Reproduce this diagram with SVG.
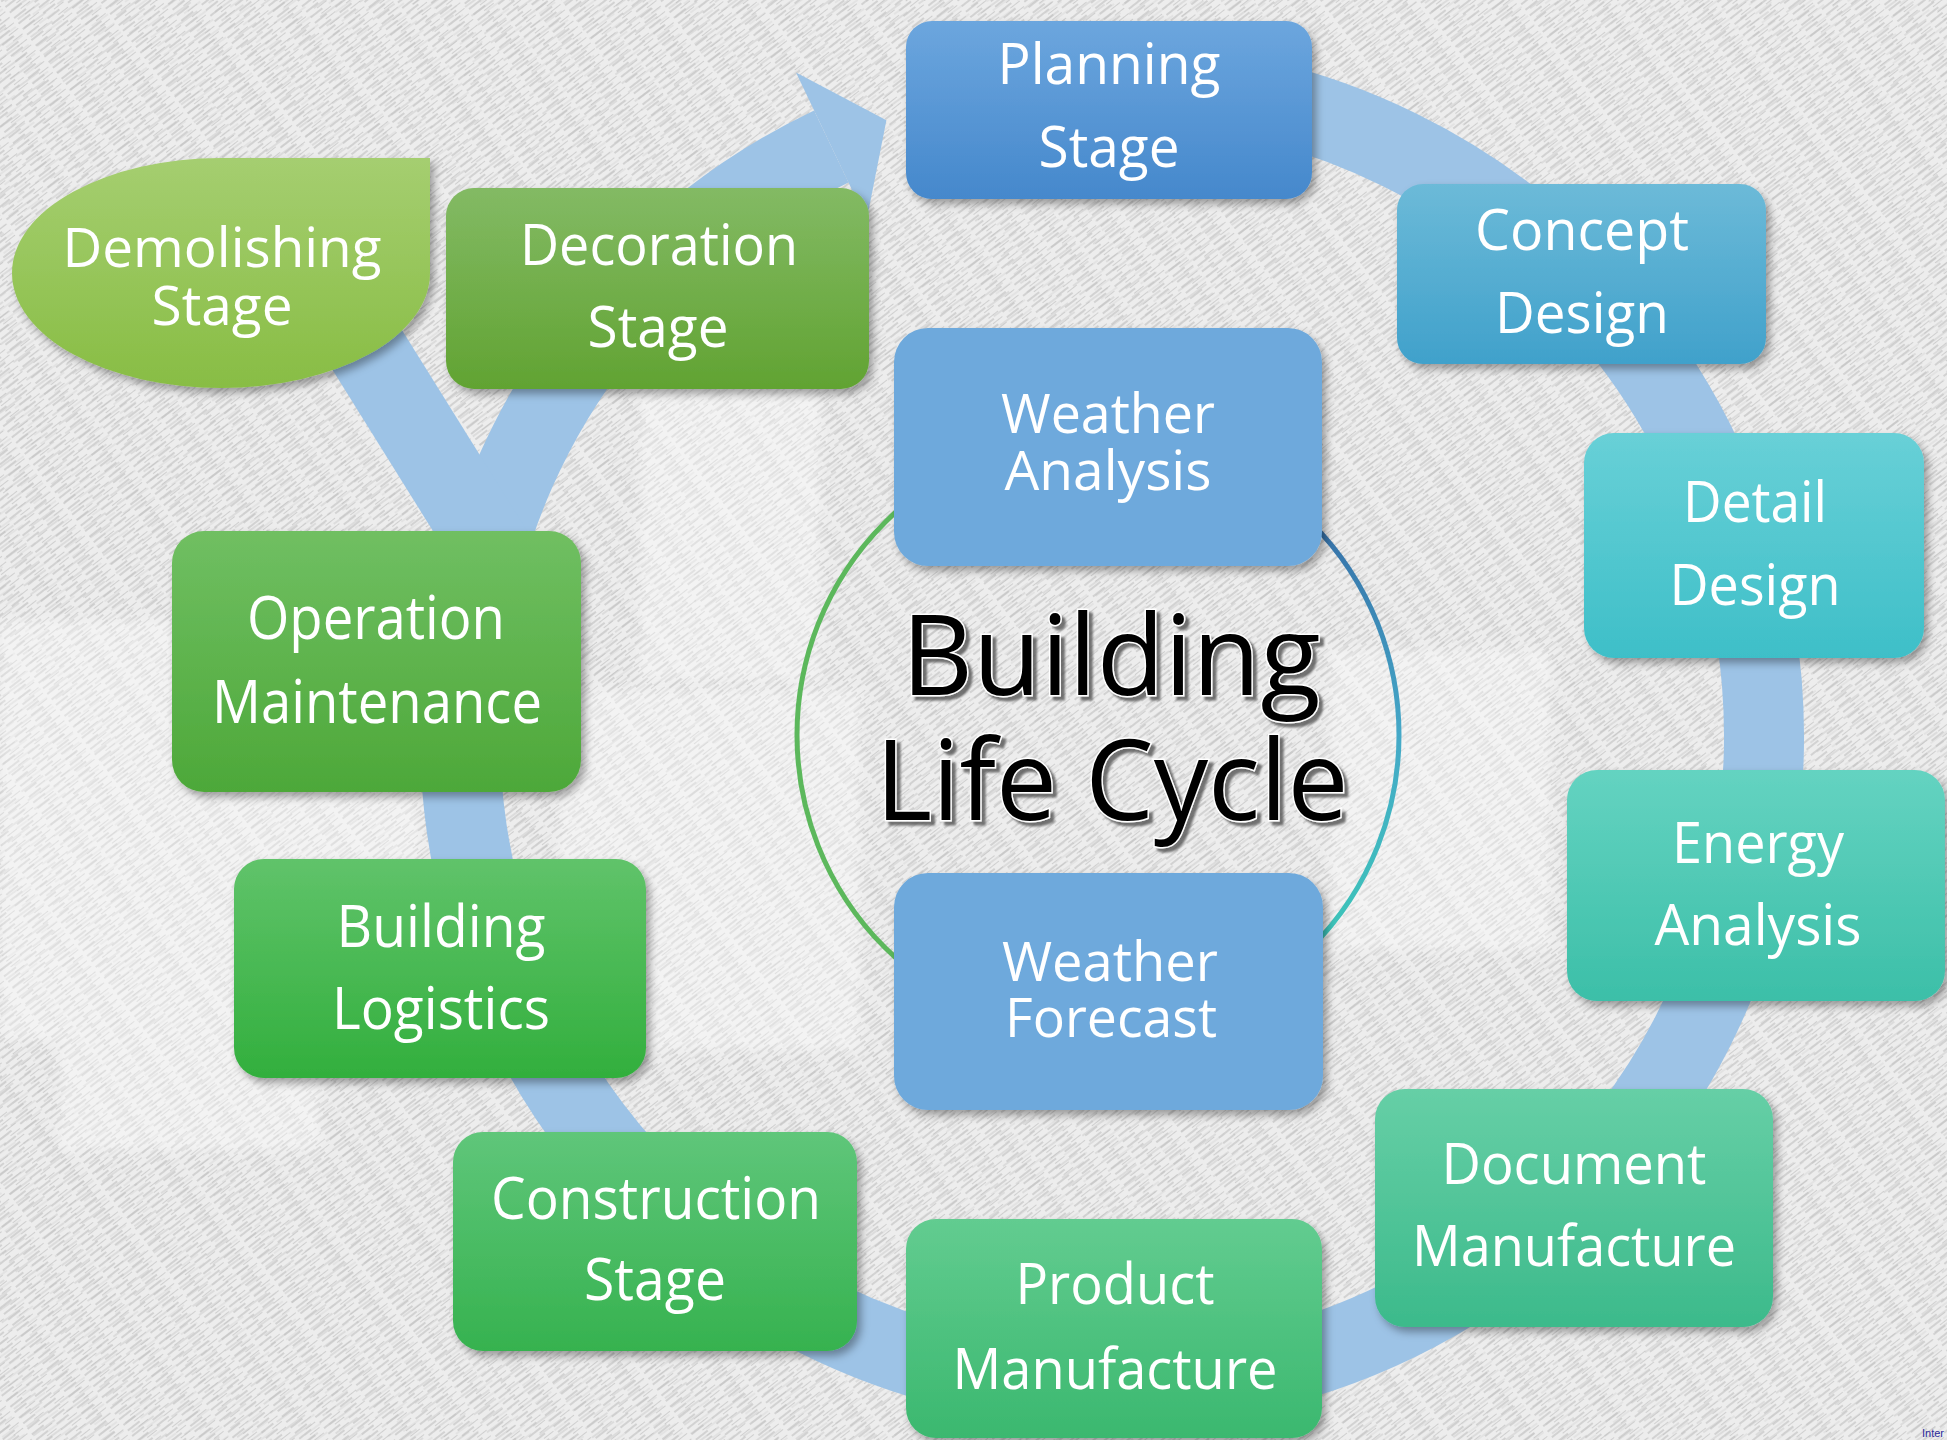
<svg xmlns="http://www.w3.org/2000/svg" width="1947" height="1440" viewBox="0 0 1947 1440">
  <defs>
    <style>
      .lbl { font-family: "Open Sans", "Noto Sans", "DejaVu Sans", sans-serif; fill: #ffffff; text-anchor: middle; }
      .box { filter: url(#shadow); }
      .title { font-family: "Open Sans", "Noto Sans", "DejaVu Sans", sans-serif; font-size: 112px; text-anchor: middle; fill: #000000; stroke: #ffffff; stroke-width: 3; paint-order: stroke; filter: url(#titleShadow); }
      .band { fill: none; stroke: #9dc3e6; stroke-width: 80; }
    </style>
    <!-- diagonal scratch texture -->
    <pattern id="hatchA" width="26" height="7" patternUnits="userSpaceOnUse" patternTransform="rotate(-38)">
      <line x1="0" y1="2" x2="15" y2="2" stroke="#c2c2c2" stroke-width="1.3"/>
      <line x1="11" y1="5.5" x2="23" y2="5.5" stroke="#cfcfcf" stroke-width="1"/>
    </pattern>
    <pattern id="hatchB" width="41" height="11" patternUnits="userSpaceOnUse" patternTransform="rotate(-36)">
      <line x1="3" y1="4" x2="30" y2="4" stroke="#b9b9b9" stroke-width="1.1"/>
      <line x1="18" y1="9" x2="38" y2="9" stroke="#c8c8c8" stroke-width="0.9"/>
    </pattern>
    <filter id="shadow" x="-10%" y="-10%" width="125%" height="130%">
      <feDropShadow dx="4" dy="5" stdDeviation="4" flood-color="#000" flood-opacity="0.35"/>
    </filter>
    <filter id="titleShadow" x="-5%" y="-10%" width="115%" height="130%">
      <feDropShadow dx="4" dy="4" stdDeviation="1" flood-color="#555" flood-opacity="0.8"/>
    </filter>
    <filter id="soft" x="-5%" y="-5%" width="110%" height="110%">
      <feGaussianBlur stdDeviation="6"/>
    </filter>
    <!-- node fills -->
    <linearGradient id="gPlanning" x1="0" y1="0" x2="0" y2="1"><stop offset="0" stop-color="#6ca6de"/><stop offset="1" stop-color="#4588cc"/></linearGradient>
    <linearGradient id="gConcept" x1="0" y1="0" x2="0" y2="1"><stop offset="0" stop-color="#6cbad8"/><stop offset="1" stop-color="#40a1cb"/></linearGradient>
    <linearGradient id="gDetail" x1="0" y1="0" x2="0" y2="1"><stop offset="0" stop-color="#68d0d7"/><stop offset="1" stop-color="#3ebfc8"/></linearGradient>
    <linearGradient id="gEnergy" x1="0" y1="0" x2="0" y2="1"><stop offset="0" stop-color="#64d3c1"/><stop offset="1" stop-color="#3cbfa8"/></linearGradient>
    <linearGradient id="gDocument" x1="0" y1="0" x2="0" y2="1"><stop offset="0" stop-color="#66cfa6"/><stop offset="1" stop-color="#3cba8b"/></linearGradient>
    <linearGradient id="gProduct" x1="0" y1="0" x2="0" y2="1"><stop offset="0" stop-color="#62cc90"/><stop offset="1" stop-color="#3bb86f"/></linearGradient>
    <linearGradient id="gConstruction" x1="0" y1="0" x2="0" y2="1"><stop offset="0" stop-color="#5fc67a"/><stop offset="1" stop-color="#36b24f"/></linearGradient>
    <linearGradient id="gLogistics" x1="0" y1="0" x2="0" y2="1"><stop offset="0" stop-color="#60c36a"/><stop offset="1" stop-color="#32af3d"/></linearGradient>
    <linearGradient id="gOperation" x1="0" y1="0" x2="0" y2="1"><stop offset="0" stop-color="#70bf62"/><stop offset="1" stop-color="#4da839"/></linearGradient>
    <linearGradient id="gDecoration" x1="0" y1="0" x2="0" y2="1"><stop offset="0" stop-color="#83ba64"/><stop offset="1" stop-color="#61a332"/></linearGradient>
    <linearGradient id="gDemolishing" x1="0" y1="0" x2="0" y2="1"><stop offset="0" stop-color="#a5ce70"/><stop offset="1" stop-color="#88bd44"/></linearGradient>
    <linearGradient id="gHubRight" x1="0" y1="434" x2="0" y2="1036" gradientUnits="userSpaceOnUse">
      <stop offset="0.15" stop-color="#3670a8"/><stop offset="0.5" stop-color="#45a9c8"/><stop offset="0.85" stop-color="#3cc6b8"/>
    </linearGradient>
  </defs>

  <!-- backdrop -->
  <rect width="1947" height="1440" fill="#ededed"/>
  <rect width="1947" height="1440" fill="url(#hatchA)"/>
  <rect width="1947" height="1440" fill="url(#hatchB)" opacity="0.6"/>
  <g fill="#ffffff" opacity="0.35" filter="url(#soft)">
    <rect x="0" y="620" width="420" height="420"/>
    <rect x="60" y="930" width="260" height="220"/>
    <rect x="560" y="690" width="300" height="360"/>
    <rect x="1330" y="650" width="220" height="300"/>
    <rect x="1400" y="1100" width="300" height="200"/>
    <rect x="640" y="380" width="180" height="300"/>
  </g>

  <!-- cycle band with arrowhead and branch -->
  <g id="connectors">
    <path class="band" d="M 1112 83 A 652 652 0 1 1 831.3 146.5"/>
    <polygon points="796,72.5 886.4,120.2 866.6,220.5" fill="#9dc3e6"/>
    <line class="band" x1="305" y1="250" x2="500" y2="563"/>
  </g>

  <!-- central hub ring -->
  <g id="hub">
    <path d="M 1098 434 A 301 301 0 0 0 1098 1036" fill="none" stroke="#5cb85c" stroke-width="5"/>
    <path d="M 1098 434 A 301 301 0 0 1 1098 1036" fill="none" stroke="url(#gHubRight)" stroke-width="5"/>
  </g>

  <g id="title">
    <text class="title"><tspan x="1111" y="695" textLength="419" lengthAdjust="spacingAndGlyphs">Building</tspan><tspan x="1112" y="820" textLength="473" lengthAdjust="spacingAndGlyphs">Life Cycle</tspan></text>
  </g>

  <g id="weather-analysis">
    <rect class="box" x="894" y="328" width="428" height="238" rx="34" fill="#6ea9dc"/>
    <text class="lbl" font-size="54"><tspan x="1108" y="433" textLength="214" lengthAdjust="spacingAndGlyphs">Weather</tspan><tspan x="1108" y="490" textLength="207" lengthAdjust="spacingAndGlyphs">Analysis</tspan></text>
  </g>

  <g id="weather-forecast">
    <rect class="box" x="894" y="873" width="429" height="237" rx="34" fill="#6ea9dc"/>
    <text class="lbl" font-size="54"><tspan x="1110" y="981" textLength="216" lengthAdjust="spacingAndGlyphs">Weather</tspan><tspan x="1111" y="1037" textLength="212" lengthAdjust="spacingAndGlyphs">Forecast</tspan></text>
  </g>

  <g id="planning-stage">
    <rect class="box" x="906" y="21" width="406" height="178" rx="26" fill="url(#gPlanning)"/>
    <text class="lbl" font-size="56"><tspan x="1109" y="84" textLength="223" lengthAdjust="spacingAndGlyphs">Planning</tspan><tspan x="1109" y="167" textLength="141" lengthAdjust="spacingAndGlyphs">Stage</tspan></text>
  </g>

  <g id="concept-design">
    <rect class="box" x="1397" y="184" width="369" height="180" rx="26" fill="url(#gConcept)"/>
    <text class="lbl" font-size="56"><tspan x="1582" y="250" textLength="214" lengthAdjust="spacingAndGlyphs">Concept</tspan><tspan x="1582" y="333" textLength="174" lengthAdjust="spacingAndGlyphs">Design</tspan></text>
  </g>

  <g id="detail-design">
    <rect class="box" x="1584" y="433" width="340" height="225" rx="30" fill="url(#gDetail)"/>
    <text class="lbl" font-size="56"><tspan x="1755" y="522" textLength="144" lengthAdjust="spacingAndGlyphs">Detail</tspan><tspan x="1755" y="605" textLength="171" lengthAdjust="spacingAndGlyphs">Design</tspan></text>
  </g>

  <g id="energy-analysis">
    <rect class="box" x="1567" y="770" width="378" height="231" rx="30" fill="url(#gEnergy)"/>
    <text class="lbl" font-size="56"><tspan x="1758" y="863" textLength="172" lengthAdjust="spacingAndGlyphs">Energy</tspan><tspan x="1758" y="945" textLength="207" lengthAdjust="spacingAndGlyphs">Analysis</tspan></text>
  </g>

  <g id="document-manufacture">
    <rect class="box" x="1375" y="1089" width="398" height="238" rx="30" fill="url(#gDocument)"/>
    <text class="lbl" font-size="56"><tspan x="1574" y="1184" textLength="265" lengthAdjust="spacingAndGlyphs">Document</tspan><tspan x="1574" y="1266" textLength="324" lengthAdjust="spacingAndGlyphs">Manufacture</tspan></text>
  </g>

  <g id="product-manufacture">
    <rect class="box" x="906" y="1219" width="416" height="219" rx="30" fill="url(#gProduct)"/>
    <text class="lbl" font-size="56"><tspan x="1115" y="1304" textLength="199" lengthAdjust="spacingAndGlyphs">Product</tspan><tspan x="1115" y="1389" textLength="325" lengthAdjust="spacingAndGlyphs">Manufacture</tspan></text>
  </g>

  <g id="construction-stage">
    <rect class="box" x="453" y="1132" width="404" height="219" rx="30" fill="url(#gConstruction)"/>
    <text class="lbl" font-size="58"><tspan x="656" y="1219" textLength="330" lengthAdjust="spacingAndGlyphs">Construction</tspan><tspan x="655" y="1300" textLength="142" lengthAdjust="spacingAndGlyphs">Stage</tspan></text>
  </g>

  <g id="building-logistics">
    <rect class="box" x="234" y="859" width="412" height="219" rx="30" fill="url(#gLogistics)"/>
    <text class="lbl" font-size="59"><tspan x="441" y="947" textLength="209" lengthAdjust="spacingAndGlyphs">Building</tspan><tspan x="441" y="1029" textLength="218" lengthAdjust="spacingAndGlyphs">Logistics</tspan></text>
  </g>

  <g id="operation-maintenance">
    <rect class="box" x="172" y="531" width="409" height="261" rx="32" fill="url(#gOperation)"/>
    <text class="lbl" font-size="60"><tspan x="376" y="639" textLength="258" lengthAdjust="spacingAndGlyphs">Operation</tspan><tspan x="377" y="723" textLength="330" lengthAdjust="spacingAndGlyphs">Maintenance</tspan></text>
  </g>

  <g id="decoration-stage">
    <rect class="box" x="446" y="188" width="423" height="201" rx="28" fill="url(#gDecoration)"/>
    <text class="lbl" font-size="56"><tspan x="659" y="265" textLength="278" lengthAdjust="spacingAndGlyphs">Decoration</tspan><tspan x="658" y="347" textLength="141" lengthAdjust="spacingAndGlyphs">Stage</tspan></text>
  </g>

  <g id="demolishing-stage">
    <path class="box" d="M 430 158 L 430 273 A 209 115 0 0 1 221 388 A 209 115 0 0 1 12 273 A 209 115 0 0 1 221 158 Z" fill="url(#gDemolishing)"/>
    <text class="lbl" font-size="55"><tspan x="222" y="267" textLength="319" lengthAdjust="spacingAndGlyphs">Demolishing</tspan><tspan x="222" y="325" textLength="141" lengthAdjust="spacingAndGlyphs">Stage</tspan></text>
  </g>

  <text x="1922" y="1437" font-family="Liberation Sans, Arial, sans-serif" font-size="11" fill="#2b2b9c">Inter</text>
</svg>
